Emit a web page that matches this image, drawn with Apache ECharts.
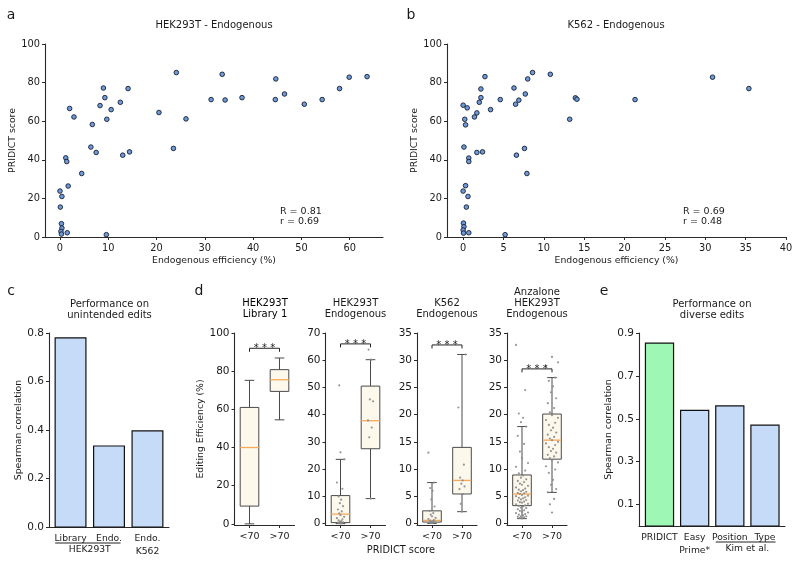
<!DOCTYPE html>
<html><head><meta charset="utf-8">
<script src="https://cdn.jsdelivr.net/npm/echarts@6/dist/echarts.min.js"></script>
<style>html,body{margin:0;padding:0;background:#fff}#c{width:800px;height:563px}</style>
</head><body><div id="c"></div>
<script>
// ---------------- DATA ----------------
const hekEff = [0, 0.4, 0.07, 0.3, 0.4, 0.2, 0.3, 1.5, 1.7, 1.2, 1.4, 4.5, 2.0, 2.9, 6.4, 7.5, 6.7, 8.3, 9.0, 9.3, 9.7, 10.6, 9.6, 12.5, 13.0, 14.1, 14.4, 20.5, 23.5, 24.1, 26.1, 31.3, 33.6, 34.2, 37.7, 44.7, 44.6, 46.5, 50.6, 54.3, 57.9, 59.9, 63.6];
const hekScore = [23.8, 21.0, 15.5, 6.9, 4.6, 2.9, 1.5, 2.2, 26.4, 41.0, 39.1, 32.9, 66.6, 62.2, 46.6, 43.8, 58.3, 68.1, 77.2, 72.2, 61.0, 66.0, 1.2, 69.8, 42.4, 76.9, 44.1, 64.5, 45.9, 85.2, 61.2, 71.2, 84.3, 71.0, 72.2, 81.9, 71.2, 74.1, 68.8, 71.2, 76.9, 82.8, 83.1];
const k562Eff = [0, 0.5, 0.2, 0.3, 0.1, 0.7, 0.7, 0.3, 0, 0.6, 0.4, 0.04, 0.1, 0, 0.05, 0.7, 5.2, 1.4, 1.7, 2.0, 2.2, 2.2, 2.7, 1.7, 2.4, 3.4, 4.6, 6.3, 6.5, 6.9, 7.7, 8.0, 8.6, 6.6, 7.6, 7.9, 10.8, 13.2, 13.9, 14.1, 21.3, 30.9, 35.4];
const k562Score = [68.3, 66.9, 61.0, 58.1, 46.6, 40.9, 39.1, 26.6, 23.8, 21.0, 15.5, 7.2, 5.3, 3.6, 2.0, 2.2, 1.2, 62.2, 64.3, 69.8, 72.2, 76.7, 83.1, 43.8, 44.1, 66.0, 71.2, 77.2, 68.8, 70.9, 74.1, 81.9, 85.2, 42.4, 45.9, 32.9, 84.3, 61.0, 72.1, 71.4, 71.2, 82.8, 76.9];
const hekStats = ['R = 0.81', 'r = 0.69'];
const k562Stats = ['R = 0.69', 'r = 0.48'];

const unintendedCats = ['Library', 'Endo.', 'Endo.\nK562'];
const unintendedVals = [0.78, 0.334, 0.396];
const diverseCats = ['PRIDICT', 'Easy\nPrime*', 'Position', 'Type'];
const diverseVals = [0.853, 0.539, 0.56, 0.47];

const boxCats = ['<70', '>70'];
// [low whisker, Q1, median, Q3, high whisker]
const lib1Box = [[0, 9.3, 40, 61, 75.2], [54.5, 69.4, 75.5, 80.8, 86.9]];
const hekEndoBox = [[0, 0.37, 3.5, 10.3, 23.6], [9.2, 27.5, 37.8, 50.5, 60.2]];
const k562EndoBox = [[0, 0.24, 0.55, 2.3, 7.5], [2.15, 5.4, 7.9, 13.97, 31.05]];
const anzBox = [[0.87, 3.26, 5.4, 8.9, 17.8], [5.7, 11.8, 15.3, 20.1, 26.8]];
// individual points
const hekEndoPts = [
  [0.1, 0.2, 0.3, 0.4, 0.5, 0.7, 0.9, 1.2, 1.6, 2.0, 2.5, 3.1, 3.8, 4.5, 5.2, 6.4, 7.5, 8.8, 10.0, 12.8, 15.1, 23.6, 26.2, 50.8],
  [9.2, 31.7, 35.3, 37.9, 44.9, 45.6, 60.2, 63.9]];
const k562EndoPts = [
  [0.05, 0.1, 0.15, 0.2, 0.25, 0.3, 0.4, 0.5, 0.6, 0.8, 1.0, 1.3, 1.6, 1.9, 2.3, 3.1, 4.4, 6.0, 6.5, 7.5, 13.0],
  [2.15, 3.6, 5.4, 6.3, 6.8, 7.3, 7.9, 8.4, 10.8, 21.3, 31.05]];
const anzPts = [
  [0.9, 1.0, 1.1, 1.2, 1.3, 1.3, 1.5, 1.6, 1.7, 1.9, 2.0, 2.1, 2.3, 2.4, 2.6, 2.8, 2.9, 3.1, 3.2, 3.3, 3.5, 3.6, 3.8, 3.9, 4.0, 4.2, 4.3, 4.4, 4.6, 4.7, 4.8, 5.0, 5.1, 5.2, 5.4, 5.5, 5.6, 5.8, 5.9, 6.1, 6.2, 6.4, 6.6, 6.9, 7.1, 7.3, 7.6, 7.8, 8.1, 8.4, 8.8, 9.2, 9.7, 10.4, 11.1, 12.0, 13.2, 14.6, 16.1, 17.8, 18.6, 19.4, 20.2, 24.5, 32.8],
  [2.0, 3.5, 4.5, 5.7, 6.3, 7.1, 8.0, 9.3, 9.9, 10.5, 11.2, 11.6, 12.0, 12.3, 12.6, 13.0, 13.3, 13.7, 14.0, 14.4, 14.7, 15.0, 15.3, 15.6, 15.9, 16.3, 16.7, 17.1, 17.6, 18.1, 18.5, 19.0, 19.4, 19.9, 20.4, 21.2, 22.1, 23.0, 24.1, 25.2, 26.2, 26.8, 28.9, 29.6, 30.6]];
const sigMarks = ['* * *', '* * *', '* * *', '* * *'];

// ---------------- STYLE ----------------
const FONT = 'DejaVu Sans';
const TXT = '#1a1a1a';
const AX = '#2a2a2a';
const BLUE = '#c6dbf8';
const GREEN = '#9ef7b4';

const grids = [
  {left: 45, top: 44, width: 338, height: 193},     // a
  {left: 447, top: 44, width: 339, height: 193},    // b
  {left: 49, top: 333, width: 120, height: 194},    // c
  {left: 234.5, top: 333, width: 60, height: 192},  // d1
  {left: 325.5, top: 333, width: 60, height: 192},  // d2
  {left: 417, top: 333, width: 60, height: 192},    // d3
  {left: 507, top: 333, width: 60, height: 192},    // d4
  {left: 639, top: 333, width: 146, height: 193}    // e
].map(g => Object.assign({containLabel: false, outerBoundsMode: 'none', show: false}, g));

function axisBase(gi, min, max, ticks, fmt, fs, showTicks) {
  return {
    type: 'value', gridIndex: gi, min: min, max: max,
    axisLine: {show: true, onZero: false, lineStyle: {color: AX, width: 1.1}},
    axisTick: {show: showTicks, length: 3, lineStyle: {color: AX, width: 1}, customValues: ticks},
    axisLabel: {show: true, margin: 5, fontFamily: FONT, fontSize: fs, color: TXT, customValues: ticks,
      formatter: fmt, lineHeight: 13},
    splitLine: {show: false}
  };
}
const nameStyle = {fontFamily: FONT, fontSize: 9.3, color: TXT};

const xAxes = [], yAxes = [];
// a
xAxes.push(Object.assign(axisBase(0, -3.1, 66.9, [0, 10, 20, 30, 40, 50, 60], v => String(v), 9.8, true),
  {name: 'Endogenous efficiency (%)', nameLocation: 'middle', nameGap: 16, nameTextStyle: nameStyle}));
yAxes.push(Object.assign(axisBase(0, 0, 100, [0, 20, 40, 60, 80, 100], v => String(v), 9.8, true),
  {name: 'PRIDICT score', nameLocation: 'middle', nameGap: 26, nameTextStyle: nameStyle}));
// b
xAxes.push(Object.assign(axisBase(1, -2, 40, [0, 5, 10, 15, 20, 25, 30, 35, 40], v => String(v), 9.8, true),
  {name: 'Endogenous efficiency (%)', nameLocation: 'middle', nameGap: 16, nameTextStyle: nameStyle}));
yAxes.push(Object.assign(axisBase(1, 0, 100, [0, 20, 40, 60, 80, 100], v => String(v), 9.8, true),
  {name: 'PRIDICT score', nameLocation: 'middle', nameGap: 26, nameTextStyle: nameStyle}));
// c
xAxes.push(Object.assign(axisBase(2, -0.56, 2.56, [0, 1, 2], v => unintendedCats[v], 9.2, false)));
yAxes.push(Object.assign(axisBase(2, 0, 0.8, [0, 0.2, 0.4, 0.6, 0.8], v => v.toFixed(1), 10.5, true),
  {name: 'Spearman correlation', nameLocation: 'middle', nameGap: 20, nameTextStyle: nameStyle}));
// d
const dY = [[-0.6, 100, [0, 20, 40, 60, 80, 100]], [-0.5, 70, [0, 10, 20, 30, 40, 50, 60, 70]],
            [-0.3, 35, [0, 5, 10, 15, 20, 25, 30, 35]], [-0.3, 35, [0, 5, 10, 15, 20, 25, 30, 35]]];
dY.forEach((d, k) => {
  const gi = 3 + k;
  xAxes.push(axisBase(gi, -0.5, 1.5, [0, 1], v => boxCats[v], 9.5, true));
  const y = axisBase(gi, d[0], d[1], d[2], v => String(v), 10.5, true);
  if (k === 0) Object.assign(y, {name: 'Editing Efficiency (%)', nameLocation: 'middle', nameGap: 19.5, nameTextStyle: nameStyle});
  yAxes.push(y);
});
// e
xAxes.push(axisBase(7, -0.583, 3.57, [0, 1, 2, 3], v => diverseCats[v], 9.2, false));
yAxes.push(Object.assign(axisBase(7, 0, 0.9, [0.1, 0.3, 0.5, 0.7, 0.9], v => v.toFixed(1), 10.5, true),
  {name: 'Spearman correlation', nameLocation: 'middle', nameGap: 22, nameTextStyle: nameStyle}));

// ---------------- SERIES ----------------
const series = [];
function scatterSeries(gi, xs, ys) {
  return {type: 'scatter', xAxisIndex: gi, yAxisIndex: gi, symbol: 'circle', symbolSize: 4.6,
    itemStyle: {color: '#6d9ad8', borderColor: '#151c30', borderWidth: 0.9, opacity: 1},
    data: xs.map((x, i) => [x, ys[i]])};
}
series.push(scatterSeries(0, hekEff, hekScore));
series.push(scatterSeries(1, k562Eff, k562Score));

function barSeries(gi, vals, colors) {
  return {type: 'custom', xAxisIndex: gi, yAxisIndex: gi, encode: {x: 0, y: 1},
    data: vals.map((v, i) => [i, v]),
    renderItem(p, api) {
      const i = api.value(0), v = api.value(1);
      const a = api.coord([i - 0.4, v]), b = api.coord([i + 0.4, 0]);
      return {type: 'rect', shape: {x: a[0], y: a[1], width: b[0] - a[0], height: b[1] - a[1]},
        style: {fill: colors[p.dataIndex], stroke: '#111', lineWidth: 1.2}};
    }};
}
series.push(barSeries(2, unintendedVals, [BLUE, BLUE, BLUE]));
series.push(barSeries(7, diverseVals, [GREEN, BLUE, BLUE, BLUE]));

const WH = '#4a4a4a';
function boxSeries(gi, boxes) {
  return {type: 'custom', xAxisIndex: gi, yAxisIndex: gi, encode: {x: 0, y: [1, 2, 3, 4, 5]},
    data: boxes.map((b, i) => [i].concat(b)),
    renderItem(p, api) {
      const x = api.value(0), lo = api.value(1), q1 = api.value(2), md = api.value(3), q3 = api.value(4), hi = api.value(5);
      const c = (xx, yy) => api.coord([xx, yy]);
      const hw = 0.31, cw = 0.16;
      const ln = (p1, p2, col, w) => ({type: 'line', shape: {x1: p1[0], y1: p1[1], x2: p2[0], y2: p2[1]},
        style: {stroke: col, lineWidth: w}});
      const tl = c(x - hw, q3), br = c(x + hw, q1);
      return {type: 'group', children: [
        ln(c(x, lo), c(x, q1), WH, 1), ln(c(x, q3), c(x, hi), WH, 1),
        ln(c(x - cw, lo), c(x + cw, lo), WH, 1), ln(c(x - cw, hi), c(x + cw, hi), WH, 1),
        {type: 'rect', shape: {x: tl[0], y: tl[1], width: br[0] - tl[0], height: br[1] - tl[1]},
          style: {fill: '#fdf8ec', stroke: WH, lineWidth: 1}},
        ln(c(x - hw, md), c(x + hw, md), '#f7a85a', 1.3)
      ]};
    }};
}
const jit = [0, -0.07, 0.07, -0.14, 0.14, -0.035, 0.035, -0.105, 0.105, -0.2, 0.2];
function dotSeries(gi, groups, spread) {
  const data = [];
  groups.forEach((g, i) => g.forEach((v, j) => data.push([i + jit[j % jit.length] * spread, v])));
  return {type: 'scatter', xAxisIndex: gi, yAxisIndex: gi, symbol: 'circle', symbolSize: 2.2,
    itemStyle: {color: '#8c8c8c', opacity: 0.9}, data: data, z: 3};
}
function sigSeries(gi, yv, mark) {
  return {type: 'custom', xAxisIndex: gi, yAxisIndex: gi, encode: {x: 0, y: 1}, z: 4,
    data: [[0, yv]],
    renderItem(p, api) {
      const y = api.value(1);
      const a = api.coord([0, y]), b = api.coord([1, y]);
      return {type: 'group', children: [
        {type: 'polyline', shape: {points: [[a[0], a[1] + 3.5], a, b, [b[0], b[1] + 3.5]]},
          style: {stroke: '#222', lineWidth: 1, fill: null}},
        {type: 'text', x: (a[0] + b[0]) / 2, y: a[1] + 0.5, style: {text: mark, fontFamily: FONT, fontSize: 10,
          fill: '#222', align: 'center', verticalAlign: 'middle'}}
      ]};
    }};
}
series.push(boxSeries(3, lib1Box));
series.push(sigSeries(3, 92, sigMarks[0]));
series.push(boxSeries(4, hekEndoBox));
series.push(dotSeries(4, hekEndoPts, 0.6));
series.push(sigSeries(4, 66, sigMarks[1]));
series.push(boxSeries(5, k562EndoBox));
series.push(dotSeries(5, k562EndoPts, 0.6));
series.push(sigSeries(5, 32.8, sigMarks[2]));
series.push(boxSeries(6, anzBox));
series.push(dotSeries(6, anzPts, 1.0));
series.push(sigSeries(6, 28.4, sigMarks[3]));

// ---------------- TEXT ----------------
function txt(text, x, y, opt) {
  return {type: 'text', x: x, y: y, silent: true, style: Object.assign({text: text, fontFamily: FONT, fontSize: 10,
    fill: TXT, align: 'center', verticalAlign: 'middle', lineHeight: 11}, opt || {})};
}
const graphics = [
  txt('a', 11, 15, {fontSize: 14}), txt('b', 411, 15, {fontSize: 14}),
  txt('c', 11, 291, {fontSize: 14}), txt('d', 199, 291, {fontSize: 14}), txt('e', 604, 291, {fontSize: 14}),
  txt('HEK293T - Endogenous', 214, 25), txt('K562 - Endogenous', 616, 25),
  txt('Performance on\nunintended edits', 109.5, 310),
  txt('HEK293T\nLibrary 1', 265, 308.5, {fill: '#000'}),
  txt('HEK293T\nEndogenous', 355.5, 308.5),
  txt('K562\nEndogenous', 447, 308.5),
  txt('Anzalone\nHEK293T\nEndogenous', 537, 303.5),
  txt('Performance on\ndiverse edits', 712, 310),
  txt(hekStats.join('\n'), 280, 217, {align: 'left', fontSize: 9.5, lineHeight: 10}),
  txt(k562Stats.join('\n'), 683, 217, {align: 'left', fontSize: 9.5, lineHeight: 10}),
  txt('PRIDICT score', 401, 550, {fontSize: 9.8})
];

const chart = echarts.init(document.getElementById('c'), null, {renderer: 'canvas'});
chart.setOption({
  animation: false,
  backgroundColor: '#fff',
  textStyle: {fontFamily: FONT},
  grid: grids, xAxis: xAxes, yAxis: yAxes, series: series, graphic: graphics
});
// group labels beneath category axes
const px = (gi, x, y) => chart.convertToPixel({gridIndex: gi}, [x, y]);
const cL = px(2, -0.4, 0), cR = px(2, 1.3, 0), cM = px(2, 0.5, 0);
const eL = px(7, 1.6, 0), eR = px(7, 3.3, 0), eM = px(7, 2.5, 0);
graphics.push(
  {type: 'line', shape: {x1: cL[0], y1: cL[1] + 16, x2: cR[0], y2: cR[1] + 16}, style: {stroke: '#222', lineWidth: 1}},
  txt('HEK293T', cM[0], cM[1] + 22.5, {fontSize: 9.2}),
  {type: 'line', shape: {x1: eL[0], y1: eL[1] + 16, x2: eR[0], y2: eR[1] + 16}, style: {stroke: '#222', lineWidth: 1}},
  txt('Kim et al.', eM[0], eM[1] + 23, {fontSize: 9.2})
);
chart.setOption({graphic: graphics});
</script></body></html>
